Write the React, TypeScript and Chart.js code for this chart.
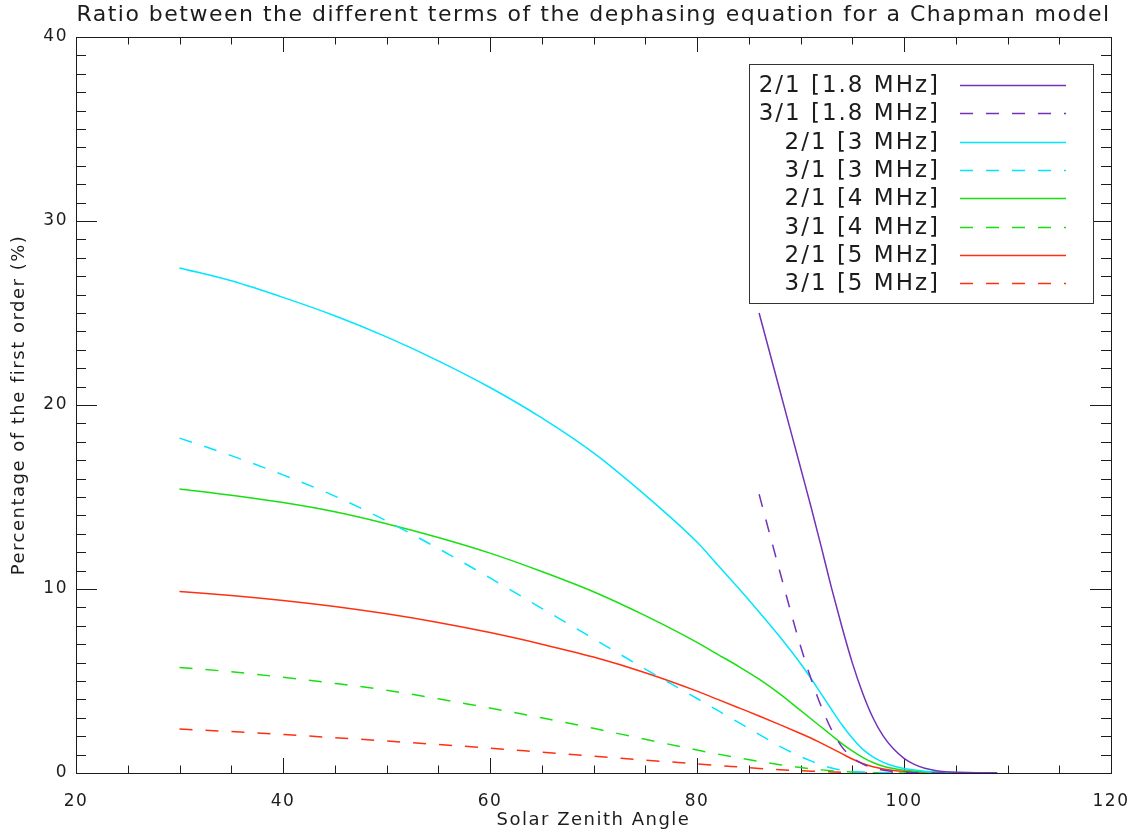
import React, { useEffect, useRef } from 'react';
import { Chart, registerables } from 'chart.js';

Chart.register(...registerables);

const TITLE = 'Ratio between the different terms of the dephasing equation for a Chapman model';
const X_TITLE = 'Solar Zenith Angle';
const Y_TITLE = 'Percentage of the first order (%)';

const X_TICKS = [20, 40, 60, 80, 100, 120];
const Y_TICKS = [0, 10, 20, 30, 40];

const SZA = [30, 35, 40, 45, 50, 55, 60, 65, 70, 75, 80, 82, 84, 86, 88, 90, 91, 92, 93, 94, 95, 96, 97, 98, 99, 100, 101, 102, 103, 104, 105, 107, 109];

const N13 = [null, null, null, null, null, null, null, null, null, null, null, null, null];

const P2_18 = [...N13, 25.0, 20.8, 16.6, 14.5, 12.3, 10.05, 7.95, 6.0, 4.35, 3.0, 2.0, 1.3, 0.8, 0.47, 0.26, 0.14, 0.07, 0.04, 0.01, 0.003];
const P3_18 = [...N13, 15.15, 10.95, 6.9, 5.15, 3.62, 2.35, 1.42, 0.85, 0.5, 0.28, 0.15, 0.08, 0.04, 0.02, 0.01, 0.006, 0.003, 0.002, 0.001, 0.0005];
const C2_3 = [27.45, 26.75, 25.85, 24.85, 23.7, 22.4, 20.95, 19.3, 17.4, 15.1, 12.55, 11.3, 10.05, 8.75, 7.4, 5.95, 5.15, 4.3, 3.45, 2.62, 1.9, 1.3, 0.88, 0.58, 0.38, 0.25, 0.16, 0.1, 0.06, 0.04, 0.025, 0.01, 0.004];
const C3_3 = [18.2, 17.25, 16.2, 15.05, 13.7, 12.2, 10.6, 8.95, 7.3, 5.65, 4.05, 3.4, 2.75, 2.1, 1.45, 0.9, 0.66, 0.44, 0.27, 0.15, 0.08, 0.05, 0.03, 0.02, 0.012, 0.008, 0.005, 0.003, 0.002, 0.001, 0.001, 0.0005, 0.0002];
const G2_4 = [15.44, 15.1, 14.7, 14.2, 13.55, 12.8, 11.95, 10.95, 9.85, 8.55, 7.1, 6.45, 5.8, 5.1, 4.3, 3.4, 2.95, 2.5, 2.05, 1.6, 1.2, 0.85, 0.57, 0.37, 0.24, 0.15, 0.1, 0.06, 0.04, 0.025, 0.015, 0.006, 0.002];
const G3_4 = [5.74, 5.5, 5.2, 4.87, 4.5, 4.03, 3.53, 3.0, 2.43, 1.83, 1.25, 1.03, 0.83, 0.63, 0.45, 0.3, 0.23, 0.17, 0.12, 0.08, 0.05, 0.03, 0.02, 0.012, 0.008, 0.005, 0.003, 0.002, 0.001, 0.001, 0.0005, 0.0002, 0.0001];
const R2_5 = [9.87, 9.65, 9.38, 9.05, 8.65, 8.18, 7.63, 7.0, 6.3, 5.45, 4.45, 4.0, 3.55, 3.1, 2.63, 2.15, 1.9, 1.62, 1.34, 1.05, 0.76, 0.52, 0.34, 0.22, 0.14, 0.09, 0.06, 0.04, 0.025, 0.015, 0.01, 0.004, 0.001];
const R3_5 = [2.39, 2.25, 2.09, 1.92, 1.74, 1.55, 1.35, 1.13, 0.91, 0.7, 0.5, 0.41, 0.33, 0.25, 0.18, 0.12, 0.1, 0.08, 0.06, 0.04, 0.03, 0.02, 0.014, 0.01, 0.007, 0.005, 0.003, 0.002, 0.001, 0.001, 0.0005, 0.0002, 0.0001];

const SERIES_LABELS = ['2/1 [1.8 MHz]', '3/1 [1.8 MHz]', '2/1 [3 MHz]', '3/1 [3 MHz]', '2/1 [4 MHz]', '3/1 [4 MHz]', '2/1 [5 MHz]', '3/1 [5 MHz]'];
const SERIES_VALUES = [P2_18, P3_18, C2_3, C3_3, G2_4, G3_4, R2_5, R3_5];
const SERIES_COLORS = ['#7432b8', '#7432b8', '#00e6ff', '#00e6ff', '#18e010', '#18e010', '#ff3010', '#ff3010'];
const SERIES_DASHED = [false, true, false, true, false, true, false, true];

const FONT = '"DejaVu Sans", "Liberation Sans", sans-serif';
const INK = '#1c1c1c';
const DASH = [13, 13];

const spacingPlugin = {
  id: 'idlSpacing',
  beforeDraw(chart: any) {
    (chart.ctx as any).letterSpacing = '1.5px';
  },
};

const ticksPlugin = {
  id: 'idlTicks',
  beforeDatasetsDraw(chart: any) {
    const { ctx, chartArea } = chart;
    const { left, right, top, bottom } = chartArea;
    const xs = chart.scales.x;
    const ys = chart.scales.y;
    ctx.save();
    ctx.strokeStyle = INK;
    ctx.lineWidth = 1;
    ctx.beginPath();
    for (let v = xs.min; v <= xs.max + 1e-9; v += 5) {
      const px = Math.round(xs.getPixelForValue(v)) + 0.5;
      const len = v % 20 === 0 ? 15 : 7.5;
      ctx.moveTo(px, bottom);
      ctx.lineTo(px, bottom - len);
      ctx.moveTo(px, top);
      ctx.lineTo(px, top + len);
    }
    for (let v = ys.min; v <= ys.max + 1e-9; v += 1) {
      const py = Math.round(ys.getPixelForValue(v)) + 0.5;
      const len = v % 10 === 0 ? 21 : 10;
      ctx.moveTo(left, py);
      ctx.lineTo(left + len, py);
      ctx.moveTo(right, py);
      ctx.lineTo(right - len, py);
    }
    ctx.stroke();
    ctx.strokeRect(Math.round(left) + 0.5, Math.round(top) + 0.5, Math.round(right - left), Math.round(bottom - top));
    ctx.restore();
  },
};

const legendPlugin = {
  id: 'idlLegend',
  afterDatasetsDraw(chart: any) {
    const { ctx } = chart;
    const boxL = 749, boxT = 64, boxW = 344, boxH = 239;
    ctx.save();
    ctx.fillStyle = '#ffffff';
    ctx.fillRect(boxL, boxT, boxW, boxH);
    ctx.strokeStyle = '#333';
    ctx.lineWidth = 1;
    ctx.strokeRect(boxL + 0.5, boxT + 0.5, boxW, boxH);
    ctx.font = `23px ${FONT}`;
    (ctx as any).letterSpacing = '2px';
    ctx.textAlign = 'right';
    ctx.textBaseline = 'middle';
    chart.data.datasets.forEach((ds: any, i: number) => {
      const y = 85 + i * 28.35;
      ctx.fillStyle = INK;
      ctx.fillText(ds.label, 940, y + 1);
      ctx.strokeStyle = ds.borderColor;
      ctx.lineWidth = 1.5;
      ctx.setLineDash(ds.borderDash || []);
      ctx.beginPath();
      ctx.moveTo(960, Math.round(y) + 0.5);
      ctx.lineTo(1066, Math.round(y) + 0.5);
      ctx.stroke();
      ctx.setLineDash([]);
    });
    ctx.restore();
  },
};

export default function App() {
  const canvasRef = useRef<HTMLCanvasElement | null>(null);

  useEffect(() => {
    document.body.style.margin = '0';
    const canvas = canvasRef.current;
    if (!canvas) return;
    const datasets = SERIES_LABELS.map((label, i) => ({
      label,
      data: SZA.map((x, j) => ({ x, y: SERIES_VALUES[i][j] })),
      borderColor: SERIES_COLORS[i],
      backgroundColor: SERIES_COLORS[i],
      borderWidth: 1.5,
      borderDash: SERIES_DASHED[i] ? DASH : [],
      pointRadius: 0,
      fill: false,
      cubicInterpolationMode: 'monotone' as const,
      spanGaps: false,
    }));

    const chart = new Chart(canvas, {
      type: 'line',
      data: { datasets },
      plugins: [spacingPlugin, ticksPlugin, legendPlugin],
      options: {
        animation: false,
        responsive: false,
        devicePixelRatio: 1,
        layout: { padding: { left: 0, right: 28, top: 0, bottom: 0 } },
        plugins: {
          legend: { display: false },
          tooltip: { enabled: false },
          title: {
            display: true,
            text: TITLE,
            fullSize: false,
            color: INK,
            font: { family: FONT, size: 22, weight: 'normal', lineHeight: 1.15 },
            padding: { top: 3, bottom: 8.7 },
          },
        },
        scales: {
          x: {
            type: 'linear',
            min: X_TICKS[0],
            max: X_TICKS[X_TICKS.length - 1],
            afterBuildTicks: (scale: any) => { scale.ticks = X_TICKS.map((v) => ({ value: v })); },
            afterFit: (scale: any) => { scale.height = 61; scale.paddingRight = 0; scale.paddingLeft = 0; },
            grid: { display: false, drawTicks: false },
            border: { display: false },
            ticks: { color: INK, font: { family: FONT, size: 17 }, padding: 18, autoSkip: false, maxRotation: 0 },
            title: { display: true, text: X_TITLE, color: INK, font: { family: FONT, size: 18, lineHeight: 1.2 }, padding: { top: 0, bottom: 3 } },
          },
          y: {
            type: 'linear',
            min: Y_TICKS[0],
            max: Y_TICKS[Y_TICKS.length - 1],
            afterBuildTicks: (scale: any) => { scale.ticks = Y_TICKS.map((v) => ({ value: v })); },
            afterFit: (scale: any) => { scale.width = 76; scale.paddingTop = 0; scale.paddingBottom = 0; },
            grid: { display: false, drawTicks: false },
            border: { display: false },
            ticks: { color: INK, font: { family: FONT, size: 17 }, padding: 8, autoSkip: false },
            title: { display: true, text: Y_TITLE, color: INK, font: { family: FONT, size: 18, lineHeight: 1.2 }, padding: { top: 9, bottom: 0 } },
          },
        },
      },
    });
    return () => chart.destroy();
  }, []);

  return (
    <div style={{ width: 1139, height: 834, background: '#fff' }}>
      <canvas ref={canvasRef} width={1139} height={834} style={{ display: 'block', width: 1139, height: 834 }} />
    </div>
  );
}
